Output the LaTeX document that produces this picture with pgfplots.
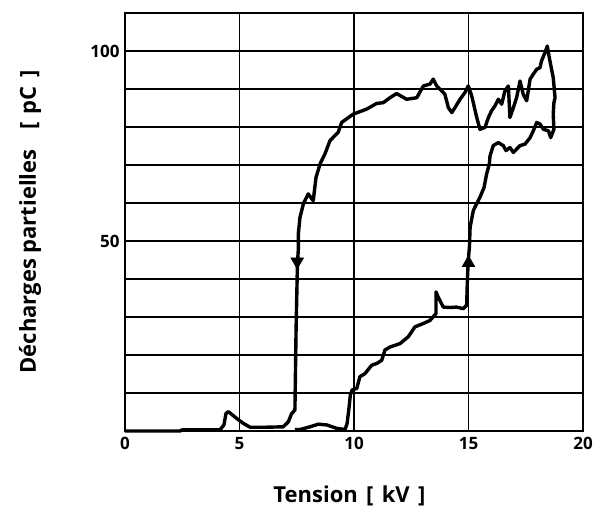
\documentclass[border=0pt]{standalone}
\usepackage{pgfplots}
\pgfplotsset{compat=1.18}
\usepackage{fontspec}
\setmainfont{Open Sans}
\begin{document}
\begin{tikzpicture}
\useasboundingbox (-125pt,-84pt) rectangle (470pt,431pt);
\begin{axis}[
  at={(0,0)}, anchor=south west,
  scale only axis, width=458pt, height=418pt,
  xmin=0, xmax=20, ymin=0, ymax=110,
  xtick={0,5,10,15,20},
  ytick={10,20,...,100},
  yticklabels={,,,,50,,,,,100},
  grid=major,
  major grid style={black, line width=1.4pt},
  major tick length=0pt,
  axis line style={line width=2pt},
  /pgf/number format/assume math mode=true,
  ticklabel style={font=\bfseries\fontsize{17}{17}\selectfont},
  xticklabel style={yshift=-3pt},
  yticklabel style={xshift=-2pt},
  xlabel={Tension\hspace{0.38em}[\hspace{0.38em}kV\hspace{0.38em}]},
  ylabel={Décharges partielles\hspace{0.9em}[\hspace{0.38em}pC\hspace{0.38em}]},
  label style={font=\bfseries\fontsize{22}{22}\selectfont},
  xlabel style={at={(axis description cs:0.49,-0.1555)}, anchor=center},
  ylabel style={at={(axis description cs:-0.2074,0.5)}, anchor=center},
  clip=false,
]
\addplot[black, line width=3.4pt, line join=round] coordinates {
(7.42,0.4)(7.64,0.4)(8.08,1.1)(8.44,1.8)(8.81,1.6)(9.24,0.7)(9.61,0.4)(9.70,2.0)(9.78,6)(9.84,9.5)(9.92,10.8)
(10.12,11.2)(10.26,14.3)(10.48,15.1)(10.77,17.3)(11.0,17.8)(11.21,18.6)(11.35,21.3)(11.57,22.1)(12.01,23.0)
(12.37,24.8)(12.66,27.4)(13.03,28.3)(13.32,29.1)(13.58,30.9)(13.58,36.6)(13.68,35.2)(13.90,32.6)(14.19,32.5)
(14.48,32.6)(14.77,32.2)(14.92,33.1)(14.95,39.6)(14.99,44.9)(15.04,48.4)(15.07,53.6)(15.21,58.0)(15.28,58.9)
(15.50,61.5)(15.68,64.1)(15.79,67.6)(15.91,70.3)(15.94,72.4)(16.08,75.1)(16.30,75.9)(16.52,75.1)(16.64,73.8)
(16.81,74.6)(16.96,73.3)(17.10,74.2)(17.25,75.1)(17.47,75.5)(17.69,77.2)(17.83,79.0)(17.98,81.2)(18.12,80.8)
(18.27,79.4)(18.49,79.0)(18.59,77.2)(18.73,79.4)(18.70,83.4)(18.73,86.4)(18.78,87.7)(18.70,93.0)(18.53,98.2)
(18.44,101.3)(18.34,99.6)(18.19,97.4)(18.12,95.6)(17.98,95.2)(17.83,93.9)(17.69,92.6)(17.54,86.9)(17.39,88.6)
(17.25,92.1)(17.10,87.7)(16.96,85.1)(16.81,82.5)(16.74,90.8)(16.59,89.5)(16.45,86.0)(16.30,87.3)(16.16,85.6)
(16.01,84.3)(15.87,82.5)(15.72,79.9)(15.50,79.4)(15.36,82.5)(15.14,88.2)(14.99,90.8)(14.85,89.1)(14.63,87.3)
(14.41,85.1)(14.27,83.8)(14.12,85.1)(13.97,88.6)(13.83,89.5)(13.61,90.8)(13.46,92.6)(13.32,91.3)(13.03,90.8)
(12.74,87.7)(12.30,87.3)(11.86,88.8)(11.57,87.7)(11.28,86.4)(10.99,86.2)(10.55,84.7)(9.97,83.4)(9.46,81.2)
(9.31,78.6)(8.95,76.4)(8.73,72.9)(8.52,70.3)(8.34,66.7)(8.22,60.6)(8.0,62.4)(7.79,59.8)(7.64,56.2)(7.57,51.9)
(7.57,47.9)(7.53,44.0)(7.47,26.5)(7.42,5.5)(7.28,4.6)(7.13,2.4)(6.91,1.1)(6.19,1.0)(5.46,1.0)(5.17,2.0)
(4.88,3.3)(4.51,5.1)(4.41,4.6)(4.32,1.6)(4.15,0.3)(2.5,0.3)(2.4,0)(0,0)
};
\addplot[only marks, mark=triangle*, mark size=7.5pt, mark options={black, rotate=180}] coordinates {(7.52,44.6)};
\addplot[only marks, mark=triangle*, mark size=7.5pt, mark options={black}] coordinates {(15.0,44.2)};
\end{axis}
\end{tikzpicture}
\end{document}
